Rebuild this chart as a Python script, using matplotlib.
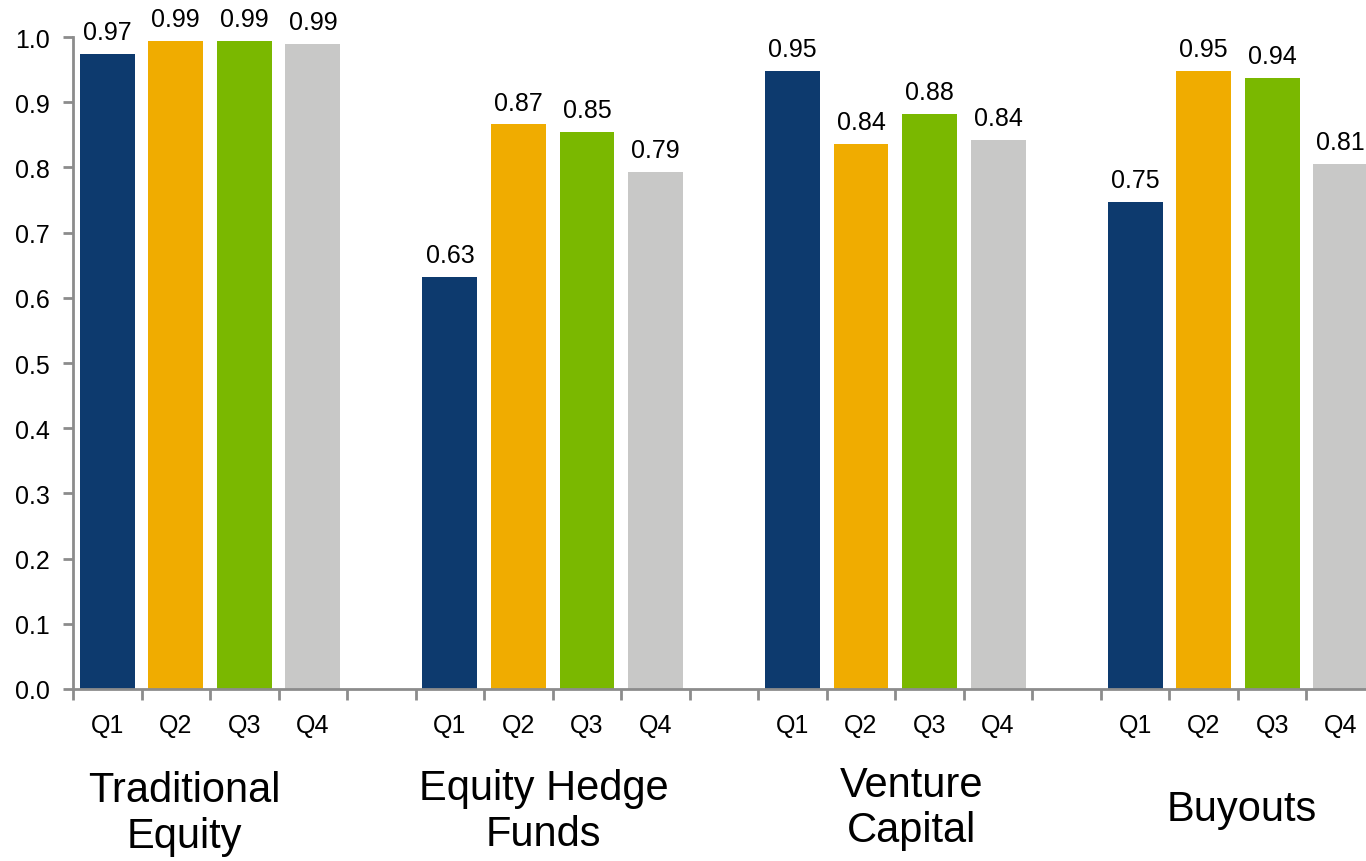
import matplotlib
matplotlib.use("Agg")
import matplotlib.pyplot as plt
from matplotlib.ticker import FixedLocator

plt.rcParams['font.family'] = ['Liberation Sans', 'DejaVu Sans']

# ---- data ----
groups = ["Traditional\nEquity", "Equity Hedge\nFunds", "Venture\nCapital", "Buyouts"]
quarters = ["Q1", "Q2", "Q3", "Q4"]
traditional = [0.974, 0.994, 0.994, 0.989]
hedge = [0.632, 0.866, 0.855, 0.793]
venture = [0.948, 0.836, 0.882, 0.842]
buyouts = [0.747, 0.948, 0.937, 0.805]
traditional_lbl = ["0.97", "0.99", "0.99", "0.99"]
hedge_lbl = ["0.63", "0.87", "0.85", "0.79"]
venture_lbl = ["0.95", "0.84", "0.88", "0.84"]
buyouts_lbl = ["0.75", "0.95", "0.94", "0.81"]
yticks = [0.0, 0.1, 0.2, 0.3, 0.4, 0.5, 0.6, 0.7, 0.8, 0.9, 1.0]

series = [traditional, hedge, venture, buyouts]
series_lbl = [traditional_lbl, hedge_lbl, venture_lbl, buyouts_lbl]
colors = ["#0D3A6E", "#F0AC00", "#7AB800", "#C8C8C7"]

W, H = 1366, 862
fig = plt.figure(figsize=(W / 100, H / 100), dpi=100)
left_px, right_px, bottom_px, top_px = 73, 1375, 690, 38
ax = fig.add_axes([left_px / W, (H - bottom_px) / H,
                   (right_px - left_px) / W, (bottom_px - top_px) / H])

slot = 0
centers = []
for gi, vals in enumerate(series):
    xs = [slot + i for i in range(len(vals))]
    ax.bar(xs, vals, width=0.8, color=colors, zorder=2)
    for x, v, lab in zip(xs, vals, series_lbl[gi]):
        ax.annotate(lab, (x, v), xytext=(0, 7), textcoords="offset points",
                    ha="center", va="bottom", fontsize=18, color="#000000",
                    annotation_clip=False)
    centers.extend(xs)
    slot += len(vals) + 1

n_slots = slot - 1
ax.set_xlim(-0.5, n_slots - 0.5)
ax.set_ylim(0, 1.0)

grey = "#8C8C8C"
for s in ["top", "right"]:
    ax.spines[s].set_visible(False)
for s in ["left", "bottom"]:
    ax.spines[s].set_color(grey)
    ax.spines[s].set_linewidth(2)

ax.set_yticks(yticks)
ax.set_yticklabels([f"{t:.1f}" for t in yticks])
ax.tick_params(axis="y", which="major", length=7, width=2, color=grey,
               labelsize=18, pad=10)

# x: quarter labels at bar centers (no tick marks), tick marks at slot edges
ax.set_xticks(centers)
ax.set_xticklabels(quarters * len(series))
ax.tick_params(axis="x", which="major", length=0, labelsize=18, pad=17)
ax.xaxis.set_minor_locator(FixedLocator([i - 0.5 for i in range(n_slots + 1)]))
ax.tick_params(axis="x", which="minor", length=8, width=2, color=grey)

# group labels
group_x = [1.13, 6.37, 11.73, 16.56]
group_y = [-0.190, -0.187, -0.182, -0.184]
for gx, gy, g in zip(group_x, group_y, groups):
    ax.text(gx, gy, g, ha="center", va="center", fontsize=30,
            linespacing=1.18, transform=ax.transData, clip_on=False)

fig.savefig("out.png", dpi=100)
